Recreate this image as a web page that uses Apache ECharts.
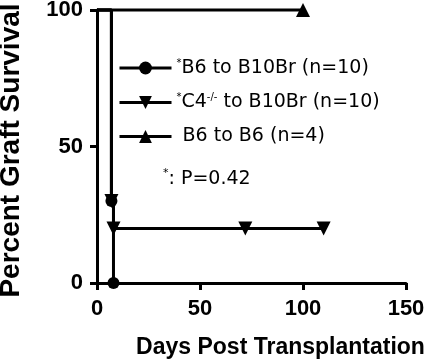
<!DOCTYPE html>
<html>
<head>
<meta charset="utf-8">
<script src="https://cdn.jsdelivr.net/npm/echarts@6/dist/echarts.min.js"></script>
<style>
  html, body { margin: 0; padding: 0; background: #ffffff; }
  #chart { width: 427px; height: 364px; }
</style>
</head>
<body>
<div id="chart"></div>
<script>
// Kaplan-Meier steps, [day, percent]; marked points carry a symbol
const b6ToB10Br = [[0, 100], [7, 100], [7, 30], [8, 30], [8, 0]]
const b6ToB10BrMarks = [2, 4]
const c4ToB10Br = [[0, 100], [7, 100], [7, 30], [8, 30], [8, 20], [72, 20], [110, 20]]
const c4ToB10BrMarks = [2, 4, 5, 6]
const b6ToB6 = [[0, 100], [100, 100]]
const b6ToB6Marks = [1]

const seriesNames = ['B6 to B10Br (n=10)', 'C4 to B10Br (n=10)', 'B6 to B6 (n=4)']
const legendLabels = [
  '{sup|*}{t|B6 to B10Br (n=10)}',
  '{sup|*}{t|C4}{sup|-/-}{t| to B10Br (n=10)}',
  '{t| B6 to B6 (n=4)}'
]
const xTicks = [0, 50, 100, 150]
const yTicks = [0, 50, 100]

const toData = (points, marks) => points.map((p, i) => (
  marks.includes(i) ? { value: p } : { value: p, symbol: 'none' }
))

const lineSeries = (name, points, marks, symbol, rotate, size) => ({
  name,
  type: 'line',
  clip: false,
  symbol,
  symbolRotate: rotate,
  symbolSize: size,
  showSymbol: true,
  color: '#000',
  lineStyle: { color: '#000', width: 3 },
  itemStyle: { color: '#000' },
  data: toData(points, marks)
})

const chart = echarts.init(document.getElementById('chart'))
const boldLabel = { color: '#000', fontFamily: 'Liberation Sans, Arial', fontWeight: 'bold', fontSize: 22 }
const axisLine = { show: true, lineStyle: { color: '#000', width: 3 } }
const axisTick = { show: true, inside: false, length: 7, lineStyle: { color: '#000', width: 3 } }

chart.setOption({
  animation: false,
  grid: { left: 97, right: 21, top: 10, bottom: 81, containLabel: false, outerBoundsMode: 'none' },
  legend: {
    orient: 'vertical',
    left: 113,
    top: 53,
    itemWidth: 52,
    itemHeight: 16,
    itemGap: 15,
    data: seriesNames,
    lineStyle: { width: 3, color: '#000' },
    formatter: (name) => legendLabels[seriesNames.indexOf(name)],
    textStyle: {
      color: '#000',
      rich: {
        t: { fontFamily: 'DejaVu Sans', fontSize: 19, lineHeight: 20, color: '#000' },
        sup: { fontFamily: 'DejaVu Sans', fontSize: 10, lineHeight: 20, verticalAlign: 'top', color: '#000' }
      }
    }
  },
  graphic: [{
    type: 'text',
    left: 163,
    top: 168,
    style: {
      text: '{sup|*}{t|: P=0.42}',
      rich: {
        t: { fontFamily: 'DejaVu Sans', fontSize: 19, lineHeight: 22, fill: '#000' },
        sup: { fontFamily: 'DejaVu Sans', fontSize: 11, lineHeight: 22, verticalAlign: 'top', fill: '#000' }
      }
    }
  }],
  xAxis: {
    type: 'value',
    min: xTicks[0],
    max: xTicks[xTicks.length - 1],
    interval: 50,
    name: 'Days Post Transplantation',
    nameLocation: 'middle',
    nameGap: 53,
    nameTextStyle: { color: '#000', fontFamily: 'Liberation Sans, Arial', fontWeight: 'bold', fontSize: 23, padding: [0, 0, 0, 58] },
    axisLine,
    axisTick,
    splitLine: { show: false },
    axisLabel: Object.assign({ margin: 15 }, boldLabel)
  },
  yAxis: {
    type: 'value',
    min: yTicks[0],
    max: yTicks[yTicks.length - 1],
    interval: 50,
    name: 'Percent Graft Survival',
    nameLocation: 'middle',
    nameGap: 72,
    nameTextStyle: { color: '#000', fontFamily: 'Liberation Sans, Arial', fontWeight: 'bold', fontSize: 28, padding: [0, 8, 0, 0] },
    axisLine,
    axisTick,
    splitLine: { show: false },
    axisLabel: Object.assign({ margin: 14 }, boldLabel)
  },
  series: [
    lineSeries(seriesNames[0], b6ToB10Br, b6ToB10BrMarks, 'circle', 0, 12),
    lineSeries(seriesNames[1], c4ToB10Br, c4ToB10BrMarks, 'triangle', 180, 14),
    lineSeries(seriesNames[2], b6ToB6, b6ToB6Marks, 'triangle', 0, 14)
  ]
})
</script>
</body>
</html>
